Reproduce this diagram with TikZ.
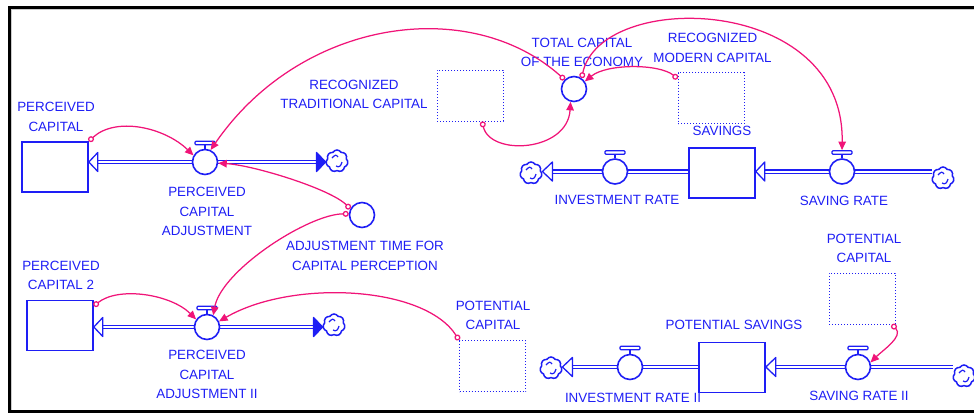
\documentclass[tikz,border=0pt]{standalone}
\usepackage{fontspec}
\setmainfont{Liberation Sans}
\usetikzlibrary{shapes.symbols,arrows.meta}
\definecolor{sdblue}{RGB}{30,30,245}
\definecolor{sdpink}{RGB}{240,20,120}
\begin{document}
\begin{tikzpicture}[x=1pt,y=-1pt,
 lbl/.style={text=sdblue,font=\fontsize{13.4}{19.5}\selectfont,align=center,inner sep=0pt},
 stock/.style={draw=sdblue,line width=1.6pt,minimum width=66pt,minimum height=50pt,inner sep=0pt,fill=white},
 aux/.style={draw=sdblue,line width=0.9pt,dash pattern=on 0.9pt off 2.1pt,minimum width=66pt,minimum height=51pt,inner sep=0pt},
 valve/.style={circle,draw=sdblue,line width=1.6pt,fill=white,minimum size=25pt,inner sep=0pt},
 vbar/.style={draw=sdblue,line width=1.3pt,rounded corners=1pt,minimum width=20pt,minimum height=3.5pt,inner sep=0pt,fill=white},
 src/.style={cloud,cloud puffs=7,cloud puff arc=120,aspect=1,draw=sdblue,line width=1.5pt,minimum width=22pt,minimum height=22pt,inner sep=0pt,fill=white},
 cmark/.style={draw=sdblue,line width=1.2pt},
 pipe/.style={draw=sdblue,line width=1.4pt,double=white,double distance=2pt},
 stem/.style={draw=sdblue,line width=1.5pt},
 hhead/.style={draw=sdblue,line width=1.3pt,fill=white,line join=round},
 fhead/.style={draw=sdblue,line width=1.3pt,fill=sdblue,line join=round},
 link/.style={draw=sdpink,line width=1.25pt,{Circle[open,length=6pt,width=6pt]}-{Triangle[length=8.5pt,width=7.5pt]}},
]
\useasboundingbox (0,0) rectangle (974,413);
% frame
\draw[gray!40,line width=1pt] (11,9.8) -- (974,9.8);
\draw[gray!40,line width=1pt] (11.3,9) -- (11.3,410);
\draw[line width=3pt] (8,7.5) -- (974,7.5);
\draw[line width=3pt] (9.2,6) -- (9.2,413);
\draw[line width=3pt] (8,411.5) -- (974,411.5);

% stocks
\node[stock] (s1) at (55,167) {};
\node[stock] (s2) at (60,325.5) {};
\node[stock] (sv) at (722,173) {};
\node[stock] (ps) at (732,367.5) {};
% auxiliaries (dotted boxes)
\node[aux] (r1) at (470,95.5) {};
\node[aux] (m1) at (711,98) {};
\node[aux] (p1) at (492.5,366) {};
\node[aux] (p2) at (862,298.5) {};
% valve positions
\coordinate (v1p) at (205,162);
\coordinate (v2p) at (207,327);
\coordinate (v3p) at (842,171.5);
\coordinate (v4p) at (630,367);
\coordinate (v5p) at (858,367);
\coordinate (v6p) at (615,171.5);
% clouds
\node[src] (c1) at (337,161) {};
\node[src] (c2) at (334,325) {};
\node[src] (c3) at (943,178) {};
\node[src] (c4) at (551,368) {};
\node[src] (c5) at (964,376) {};
\node[src] (c6) at (531,173) {};

% pipes
\draw[pipe,shorten <=9pt,shorten >=9pt] (c1.west|-v1p) -- (s1.east|-v1p);
\draw[pipe,shorten <=9pt,shorten >=9pt] (c2.west|-v2p) -- (s2.east|-v2p);
\draw[pipe,shorten >=9pt] (c3.west|-v3p) -- (sv.east|-v3p);
\draw[pipe,shorten >=10pt] (sv.west|-v6p) -- (c6.east|-v6p);
\draw[pipe,shorten >=10pt] (c5.west|-v5p) -- (ps.east|-v5p);
\draw[pipe,shorten >=10pt] (ps.west|-v4p) -- (c4.east|-v4p);
% flow heads
\draw[fhead] (c1.west|-v1p) -- ++(-9,-9.5) -- ++(0,19) -- cycle;
\draw[hhead] (s1.east|-v1p) -- ++(9,-9.5) -- ++(0,19) -- cycle;
\draw[fhead] (c2.west|-v2p) -- ++(-9,-9.5) -- ++(0,19) -- cycle;
\draw[hhead] (s2.east|-v2p) -- ++(9,-9.5) -- ++(0,19) -- cycle;
\draw[hhead] (sv.east|-v3p) -- ++(9,-9.5) -- ++(0,19) -- cycle;
\draw[hhead] (c6.east|-v6p) -- ++(10,-9.5) -- ++(0,19) -- cycle;
\draw[hhead] (ps.east|-v5p) -- ++(10,-9.5) -- ++(0,19) -- cycle;
\draw[hhead] (c4.east|-v4p) -- ++(10,-9.5) -- ++(0,19) -- cycle;
% cloud marks
\foreach \c in {c1,c2,c3,c4,c5,c6}{
  \draw[cmark] ([shift={(-5,-3)}]\c.center) .. controls +(3,-3) and +(-2,-3) .. ([shift={(1,-4)}]\c.center);
  \draw[cmark] ([shift={(5,1)}]\c.center) .. controls +(-1,4) and +(3,2) .. ([shift={(-1,5)}]\c.center);
}
% valves
\node[valve] (v1) at (v1p) {};
\node[valve] (v2) at (v2p) {};
\node[valve] (v3) at (v3p) {};
\node[valve] (v4) at (v4p) {};
\node[valve] (v5) at (v5p) {};
\node[valve] (v6) at (v6p) {};
\foreach \v in {v1,v2,v3,v4,v5,v6}{
  \node[vbar] (b\v) at ([yshift=19pt]\v.center) {};
  \draw[stem] (b\v.south) -- (\v.north);
}
% converters
\node[valve] (a1) at (362,215) {};
\node[valve] (t1) at (574,89) {};

% labels
\node[lbl] (ls1) at (56,117) {PERCEIVED\\CAPITAL};
\node[lbl] (lv1) at (207,211.5) {PERCEIVED\\CAPITAL\\ADJUSTMENT};
\node[lbl] (la1) at (365,256) {ADJUSTMENT TIME FOR\\CAPITAL PERCEPTION};
\node[lbl] (lr1) at (354,94.5) {RECOGNIZED\\TRADITIONAL CAPITAL};
\node[lbl] (lt1) at (582,52.5) {TOTAL CAPITAL\\OF THE ECONOMY};
\node[lbl] (lm1) at (712.5,48) {RECOGNIZED\\MODERN CAPITAL};
\node[lbl] (lsv) at (722,131) {SAVINGS};
\node[lbl] (lv3) at (844,201) {SAVING RATE};
\node[lbl] (lv6) at (617,200) {INVESTMENT RATE};
\node[lbl] (ls2) at (61,275.5) {PERCEIVED\\CAPITAL 2};
\node[lbl] (lv2) at (207,374.5) {PERCEIVED\\CAPITAL\\ADJUSTMENT II};
\node[lbl] (lp1) at (493,315.5) {POTENTIAL\\CAPITAL};
\node[lbl] (lps) at (734,325) {POTENTIAL SAVINGS};
\node[lbl] (lp2) at (864,248.5) {POTENTIAL\\CAPITAL};
\node[lbl] (lv5) at (859,396) {SAVING RATE II};
\node[lbl] (lv4) at (633,398) {INVESTMENT RATE II};

% links
\draw[link] (s1.north east) .. controls +(27,-25) and +(-29,-28) .. (v1.150);
\draw[link] (a1.152) .. controls +(-20,-20) and +(35,2) .. (v1.-5);
\draw[link] (a1.175) .. controls +(-40,0) and +(8,-45) .. (v2.62);
\draw[link] (t1.135) .. controls +(-95,-85) and +(90,-131) .. (v1.65);
\draw[link] (r1.-65) .. controls +(8,35) and +(-3,50) .. (t1.-105);
\draw[link] (m1.150) .. controls +(-18,-15) and +(22,-18) .. (t1.35);
\draw[link] (t1.55) .. controls +(19,-89) and +(3,-156) .. (bv3.north);
\draw[link] (s2.30) .. controls +(25,-20) and +(-25,-25) .. (v2.145);
\draw[link] (p1.north west) .. controls +(-35,-55) and +(72,-42) .. (v2.25);
\draw[link] (p2.-41) .. controls +(12,12) and +(12,-12) .. (v5.20);
\end{tikzpicture}
\end{document}
